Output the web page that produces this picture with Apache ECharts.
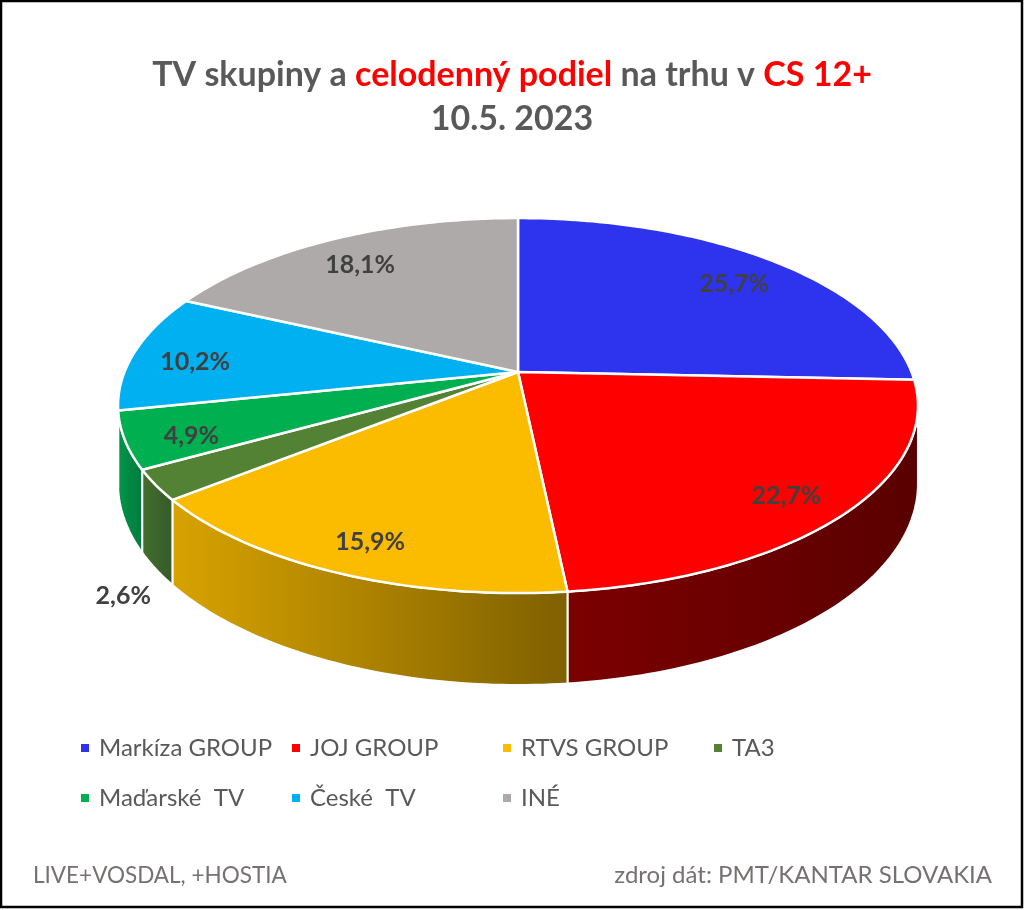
<!DOCTYPE html>
<html>
<head>
<meta charset="utf-8">
<title>TV skupiny - celodenný podiel</title>
<script src="https://cdn.jsdelivr.net/npm/echarts@6/dist/echarts.min.js"></script>
<style>
  html, body { margin: 0; padding: 0; background: #fff; }
  #chart { width: 1024px; height: 910px; }
</style>
</head>
<body>
<div id="chart"></div>
<script>
// data
var categories = ['Markíza GROUP', 'JOJ GROUP', 'RTVS GROUP', 'TA3', 'Maďarské  TV', 'České  TV', 'INÉ'];
var shares = [25.7, 22.7, 15.9, 2.6, 4.9, 10.2, 18.1];
var topColors = ['#2e33ee', '#ff0000', '#fbbc00', '#548235', '#00b050', '#00b0f0', '#aeaaaa'];
var sideColors = [
    ['#1f22a6', '#15177a'], ['#7c0000', '#5a0000'], ['#d8a300', '#7f6000'],
    ['#44702c', '#36592a'], ['#00964a', '#007a3c'], ['#0089bb', '#006a90'], ['#8a8787', '#6e6b6b']
];

// tilted disc in perspective (angles clockwise from 12 o'clock)
var CX = 518, CY = 372, S = 393.5, A = 181.5, P = 0.179, H = 75.5;
// outer wall only shows between the two widest points of the disc
var wallFrom = 90 + Math.asin(P) * 180 / Math.PI;
var wallTo = 360 - wallFrom;
var total = shares.reduce(function (a, b) { return a + b; }, 0);
var startAng = [], endAng = [];
(function () {
    var acc = 0;
    for (var i = 0; i < shares.length; i++) {
        startAng.push(acc / total * 360);
        acc += shares[i];
        endAng.push(acc / total * 360);
    }
})();

function proj(r, deg, dz) {
    var t = deg * Math.PI / 180;
    var X = r * Math.sin(t), Z = -r * Math.cos(t);
    var w = 1 - P * Z;
    return [CX + S * X / w, CY + (A * Z + dz) / w];
}

function arc(a0, a1, dz) {
    var n = Math.max(2, Math.ceil((a1 - a0) / 1));
    var pts = [];
    for (var k = 0; k <= n; k++) pts.push(proj(1, a0 + (a1 - a0) * k / n, dz));
    return pts;
}

function fmt(v) {
    return v.toFixed(1).replace('.', ',') + '%';
}

var dom = document.getElementById('chart');
var myChart = echarts.init(dom);
var font = 'Lato';

var option = {
    animation: false,
    title: [{
        left: 'center',
        top: 53,
        text: '{g|TV skupiny a }{r|celodenný podiel}{g| na trhu v }{r|CS 12+}',
        textStyle: {
            rich: {
                g: { color: '#595959', fontSize: 34, fontWeight: 'bold', fontFamily: font },
                r: { color: '#ff0000', fontSize: 34, fontWeight: 'bold', fontFamily: font }
            }
        }
    }, {
        left: 'center',
        top: 97,
        text: '10.5. 2023',
        textStyle: { color: '#595959', fontSize: 34, fontWeight: 'bold', fontFamily: font }
    }],
    legend: {
        left: 76,
        top: 718,
        width: 860,
        icon: 'rect',
        itemWidth: 8,
        itemHeight: 8,
        itemGap: 0,
        selectedMode: false,
        data: categories,
        textStyle: {
            color: '#595959',
            fontSize: 24,
            fontFamily: font,
            width: 193,
            lineHeight: 50,
            padding: [0, 0, 0, 5]
        }
    },
    graphic: [{
        type: 'rect',
        shape: { x: 1, y: 1, width: 1021, height: 906 },
        style: { fill: 'none', stroke: '#000', lineWidth: 2.5 }
    }, {
        type: 'text',
        left: 33,
        top: 864,
        style: { text: 'LIVE+VOSDAL, +HOSTIA', fill: '#767171', font: '22.5px ' + font }
    }, {
        type: 'text',
        right: 32,
        top: 863,
        style: { text: 'zdroj dát: PMT/KANTAR SLOVAKIA', fill: '#767171', font: '24px ' + font }
    }],
    series: [{
        // hidden pie, only feeds the legend
        type: 'pie',
        radius: [0, 0],
        center: [-50, -50],
        silent: true,
        label: { show: false },
        labelLine: { show: false },
        data: categories.map(function (c, i) {
            return { name: c, value: shares[i], itemStyle: { color: topColors[i] } };
        })
    }, {
        // side walls
        type: 'custom',
        coordinateSystem: 'none',
        z: 1,
        silent: true,
        data: shares,
        renderItem: function (params, api) {
            var i = params.dataIndex;
            var a0 = Math.max(startAng[i], wallFrom);
            var a1 = Math.min(endAng[i], wallTo);
            if (a1 <= a0) return null;
            var top = arc(a0, a1, 0);
            var bottom = arc(a0, a1, H).reverse();
            return {
                type: 'polygon',
                shape: { points: top.concat(bottom) },
                style: {
                    fill: new echarts.graphic.LinearGradient(0, 0, 1, 0, [
                        { offset: 0, color: sideColors[i][0] },
                        { offset: 1, color: sideColors[i][1] }
                    ]),
                    stroke: '#fff',
                    lineWidth: 2
                }
            };
        }
    }, {
        // top faces
        type: 'custom',
        coordinateSystem: 'none',
        z: 2,
        silent: true,
        data: shares,
        renderItem: function (params, api) {
            var i = params.dataIndex;
            var pts = [proj(0, 0, 0)].concat(arc(startAng[i], endAng[i], 0));
            return {
                type: 'polygon',
                shape: { points: pts },
                style: { fill: topColors[i], stroke: '#fff', lineWidth: 2.5, lineJoin: 'round' }
            };
        }
    }, {
        // data labels
        type: 'custom',
        coordinateSystem: 'none',
        z: 3,
        silent: true,
        data: shares,
        renderItem: function (params, api) {
            var i = params.dataIndex;
            var v = api.value(0);
            var mid = (startAng[i] + endAng[i]) / 2;
            var p;
            if (v < 3) {
                p = proj(1.08, mid, H);
                p[1] += 16;
            } else {
                p = proj(0.84, mid, 0);
                p[1] += 7;
            }
            return {
                type: 'text',
                x: p[0],
                y: p[1],
                style: {
                    text: fmt(v),
                    fill: '#404040',
                    font: 'bold 25px ' + font,
                    align: 'center',
                    verticalAlign: 'middle'
                }
            };
        }
    }]
};

if (option && typeof option === "object") {
    myChart.setOption(option, true);
}
</script>
</body>
</html>
